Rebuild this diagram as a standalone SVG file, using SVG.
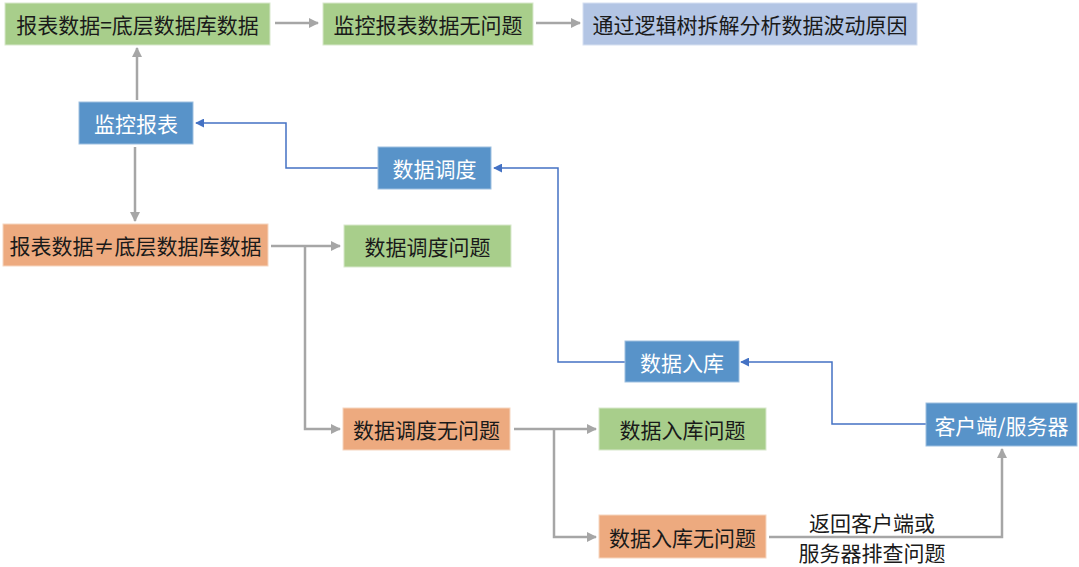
<svg xmlns="http://www.w3.org/2000/svg" width="1079" height="567" viewBox="0 0 1079 567">
<style>
.t{font-family:"Microsoft YaHei","Noto Sans CJK SC","Noto Sans",sans-serif;font-size:21px;text-anchor:middle;dominant-baseline:central;fill:#1a1a1a}
.w{fill:#ffffff}
.g{fill:#A8CE8B;stroke:#d8e8cc;stroke-width:1}
.o{fill:#EDAA7F;stroke:#f6d6c0;stroke-width:1}
.b{fill:#5893C9;stroke:#9dbfe0;stroke-width:1}
.lb{fill:#B3C5E4;stroke:#d6e0f1;stroke-width:1}
.gc{fill:none;stroke:#A6A6A6;stroke-width:2.5}
.bc{fill:none;stroke:#4472C4;stroke-width:1.5}
</style>
<defs>
<marker id="ag" viewBox="0 0 10 10" refX="9" refY="5" markerWidth="4" markerHeight="4" orient="auto" markerUnits="strokeWidth">
<path d="M0,0 L10,5 L0,10 z" fill="#A6A6A6"/>
</marker>
<marker id="ab" viewBox="0 0 10 10" refX="9" refY="5" markerWidth="6" markerHeight="6" orient="auto" markerUnits="strokeWidth">
<path d="M0,0 L10,5 L0,10 z" fill="#4472C4"/>
</marker>
</defs>
<rect width="1079" height="567" fill="#ffffff"/>
<g id="connectors">
<path class="gc" d="M275,23 L318,23" marker-end="url(#ag)"/>
<path class="gc" d="M536,23 L580,23" marker-end="url(#ag)"/>
<path class="gc" d="M137,100 L137,48" marker-end="url(#ag)"/>
<path class="gc" d="M135,147 L135,221" marker-end="url(#ag)"/>
<path class="gc" d="M271,246 L340,246" marker-end="url(#ag)"/>
<path class="gc" d="M305,246 L305,429 L340,429" marker-end="url(#ag)"/>
<path class="gc" d="M514,429 L596,429" marker-end="url(#ag)"/>
<path class="gc" d="M554,429 L554,537 L596,537" marker-end="url(#ag)"/>
<path class="gc" d="M769,537 L1002,537 L1002,449" marker-end="url(#ag)"/>
<path class="bc" d="M926,424 L832,424 L832,362 L741,362" marker-end="url(#ab)"/>
<path class="bc" d="M625,362 L558,362 L558,168 L494,168" marker-end="url(#ab)"/>
<path class="bc" d="M378,168 L286,168 L286,123 L196,123" marker-end="url(#ab)"/>
</g>
<g id="n1"><rect class="g" x="5" y="3" width="265" height="42"/><text class="t" x="137.5" y="24">报表数据=底层数据库数据</text></g>
<g id="n2"><rect class="g" x="323" y="3" width="210" height="42"/><text class="t" x="428" y="24">监控报表数据无问题</text></g>
<g id="n3"><rect class="lb" x="583" y="3" width="334" height="42"/><text class="t" x="750" y="24">通过逻辑树拆解分析数据波动原因</text></g>
<g id="n4"><rect class="b" x="79" y="102" width="114" height="42"/><text class="t w" x="136" y="123">监控报表</text></g>
<g id="n5"><rect class="b" x="378" y="147" width="113" height="42"/><text class="t w" x="434.5" y="168">数据调度</text></g>
<g id="n6"><rect class="o" x="3" y="224" width="265" height="42"/><text class="t" x="135.5" y="245">报表数据≠底层数据库数据</text></g>
<g id="n7"><rect class="g" x="344" y="225" width="167" height="42"/><text class="t" x="427.5" y="246">数据调度问题</text></g>
<g id="n8"><rect class="b" x="625" y="341" width="114" height="41"/><text class="t w" x="682" y="361.5">数据入库</text></g>
<g id="n9"><rect class="o" x="343" y="408" width="167" height="42"/><text class="t" x="426.5" y="429">数据调度无问题</text></g>
<g id="n10"><rect class="g" x="599" y="408" width="167" height="42"/><text class="t" x="682.5" y="429">数据入库问题</text></g>
<g id="n11"><rect class="b" x="926" y="403" width="151" height="43"/><text class="t w" x="1001.5" y="424.5">客户端/服务器</text></g>
<g id="n12"><rect class="o" x="599" y="515" width="167" height="43"/><text class="t" x="682.5" y="536.5">数据入库无问题</text></g>
<g id="label"><text class="t" x="872" y="522">返回客户端或</text><text class="t" x="872" y="552">服务器排查问题</text></g>
</svg>
